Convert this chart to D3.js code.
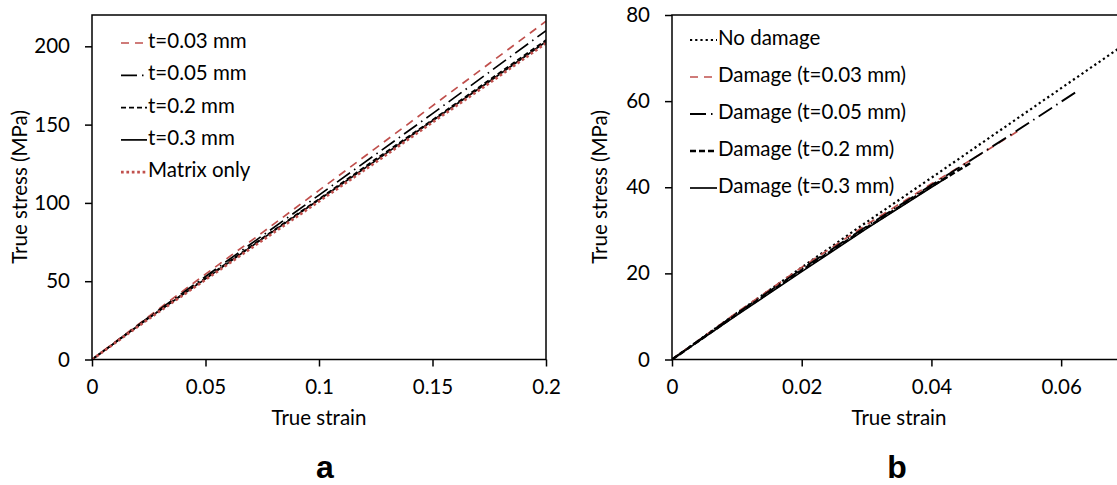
<!DOCTYPE html>
<html>
<head>
<meta charset="utf-8">
<script src="https://cdn.jsdelivr.net/npm/d3@7"></script>
<style>
  body { margin: 0; background: #fff; }
  svg { display: block; font-family: Lato, "Open Sans", sans-serif; }
</style>
</head>
<body>
<svg id="chart" width="1117" height="485"></svg>
<script>
// ---- panel a data: true strain vs true stress (MPa)
const strainA = [0, 0.025, 0.05, 0.075, 0.1, 0.125, 0.15, 0.175, 0.2];
const t003A   = [0, 27.5, 54.5, 81, 108, 135, 162, 189, 216];
const t005A   = [0, 27, 53, 79, 105, 131, 157, 183.5, 210];
const t02A    = [0, 26.5, 52, 77.5, 102.5, 128, 153, 178.5, 204];
const t03A    = [0, 26.5, 51.5, 77, 102, 127, 152.5, 177.5, 203];
const matrixA = [0, 26, 51, 76, 101, 126, 151.5, 176.5, 202];
const xTicksA = [0, 0.05, 0.1, 0.15, 0.2];
const yTicksA = [0, 50, 100, 150, 200];
const labelsA = ["t=0.03 mm", "t=0.05 mm", "t=0.2 mm", "t=0.3 mm", "Matrix only"];

// ---- panel b data
const noDmgX  = [0, 0.01, 0.02, 0.03, 0.04, 0.05, 0.06, 0.07];
const noDmgY  = [0, 10.8, 21.4, 31.9, 42.2, 52.6, 63, 73.4];
const d003X   = [0, 0.01, 0.02, 0.03, 0.04, 0.05, 0.0536];
const d003Y   = [0, 10.9, 21.4, 31.3, 40.8, 49.9, 53.3];
const d005X   = [0, 0.01, 0.02, 0.03, 0.04, 0.051, 0.0628];
const d005Y   = [0, 10.7, 21.0, 30.9, 40.5, 51, 62.6];
const d02X    = [0, 0.01, 0.02, 0.03, 0.04, 0.046];
const d02Y    = [0, 10.5, 20.7, 30.6, 40.2, 45.6];
const d03X    = [0, 0.01, 0.02, 0.03, 0.04, 0.0425];
const d03Y    = [0, 10.3, 20.4, 30.4, 40.0, 42.4];
const xTicksB = [0, 0.02, 0.04, 0.06];
const yTicksB = [0, 20, 40, 60, 80];
const labelsB = ["No damage", "Damage (t=0.03 mm)", "Damage (t=0.05 mm)", "Damage (t=0.2 mm)", "Damage (t=0.3 mm)"];

const RED = "#c0504d";
const FS = 20.5;
const svg = d3.select("#chart");

// line styles, shared by curve and legend sample
const styleA = [
  {stroke: RED, width: 1.7, dash: "8,6"},
  {stroke: "#000", width: 1.7, dash: "16,5,1.5,5"},
  {stroke: "#000", width: 1.7, dash: "5,3"},
  {stroke: "#000", width: 1.7, dash: null},
  {stroke: RED, width: 2.7, dash: "2.7,2.7"}
];
const styleB = [
  {stroke: "#000", width: 2.2, dash: "2.2,3"},
  {stroke: RED, width: 1.7, dash: "8,6"},
  {stroke: "#000", width: 1.9, dash: "16,5,1.5,5"},
  {stroke: "#000", width: 2.5, dash: "6,3"},
  {stroke: "#000", width: 1.7, dash: null}
];

function panel(opt) {
  const x = d3.scaleLinear().domain(opt.xDomain).range([opt.left, opt.right]);
  const y = d3.scaleLinear().domain(opt.yDomain).range([359.5, 15]);
  const g = svg.append("g");

  const clipId = "clip" + opt.name;
  svg.append("clipPath").attr("id", clipId)
    .append("rect")
    .attr("x", opt.left).attr("y", 15)
    .attr("width", opt.right - opt.left).attr("height", 344.5);

  // series
  const line = d3.line().x(d => x(d[0])).y(d => y(d[1]));
  opt.series.forEach((s, i) => {
    const st = opt.styles[i];
    g.append("path")
      .datum(s.x.map((v, k) => [v, s.y[k]]))
      .attr("clip-path", `url(#${clipId})`)
      .attr("fill", "none")
      .attr("stroke", st.stroke)
      .attr("stroke-width", st.width)
      .attr("stroke-dasharray", st.dash)
      .attr("d", line);
  });

  // axes
  const xAxis = g.append("g")
    .attr("transform", "translate(0,359.5)")
    .call(d3.axisBottom(x).tickValues(opt.xTicks).tickFormat(d => String(d))
      .tickSize(7).tickSizeOuter(0).tickPadding(13));
  const yAxis = g.append("g")
    .attr("transform", `translate(${opt.left},0)`)
    .call(d3.axisLeft(y).tickValues(opt.yTicks).tickFormat(d => String(d))
      .tickSize(7).tickSizeOuter(0).tickPadding(15));
  [xAxis, yAxis].forEach(a => {
    a.select(".domain").remove();
    a.selectAll("line").attr("stroke", "#000").attr("stroke-width", 1.5);
    a.selectAll("text").attr("font-family", "Lato, sans-serif")
      .attr("font-size", FS).attr("fill", "#000");
  });

  // frame
  g.append("rect")
    .attr("x", opt.left).attr("y", 15)
    .attr("width", opt.right - opt.left).attr("height", 344.5)
    .attr("fill", "none").attr("stroke", "#000").attr("stroke-width", 1.5);

  // titles
  g.append("text")
    .attr("x", (opt.left + opt.right) / 2).attr("y", 425)
    .attr("text-anchor", "middle").attr("font-size", FS)
    .text("True strain");
  g.append("text")
    .attr("transform", `translate(${opt.left - 70},187) rotate(-90)`)
    .attr("text-anchor", "middle").attr("dominant-baseline", "middle")
    .attr("font-size", FS)
    .text("True stress (MPa)");
  g.append("text")
    .attr("x", opt.letterX).attr("y", 478)
    .attr("text-anchor", "middle")
    .attr("font-family", "'Liberation Sans', Arial, sans-serif")
    .attr("font-weight", "bold").attr("font-size", 32)
    .text(opt.name);

  // legend
  const lg = g.append("g");
  opt.labels.forEach((lab, i) => {
    const st = opt.styles[i];
    const yy = opt.legTop + i * opt.legStep;
    lg.append("line")
      .attr("x1", opt.legX).attr("x2", opt.legX + opt.legLen)
      .attr("y1", yy).attr("y2", yy)
      .attr("stroke", st.stroke).attr("stroke-width", st.width)
      .attr("stroke-dasharray", st.dash);
    lg.append("text")
      .attr("x", opt.legX + opt.legLen + 1).attr("y", yy)
      .attr("dominant-baseline", "middle").attr("font-size", FS)
      .text(lab);
  });
}

panel({
  name: "a", left: 92, right: 546,
  xDomain: [0, 0.2], yDomain: [0, 220],
  xTicks: xTicksA, yTicks: yTicksA,
  series: [t003A, t005A, t02A, t03A, matrixA].map(v => ({x: strainA, y: v})),
  styles: styleA, labels: labelsA,
  legX: 121, legLen: 26, legTop: 43, legStep: 32.3,
  letterX: 325
});

panel({
  name: "b", left: 672, right: 1126,
  xDomain: [0, 0.07], yDomain: [0, 80],
  xTicks: xTicksB, yTicks: yTicksB,
  series: [
    {x: noDmgX, y: noDmgY}, {x: d003X, y: d003Y}, {x: d005X, y: d005Y},
    {x: d02X, y: d02Y}, {x: d03X, y: d03Y}
  ],
  styles: styleB, labels: labelsB,
  legX: 690, legLen: 27, legTop: 40, legStep: 37,
  letterX: 897
});
</script>
</body>
</html>
